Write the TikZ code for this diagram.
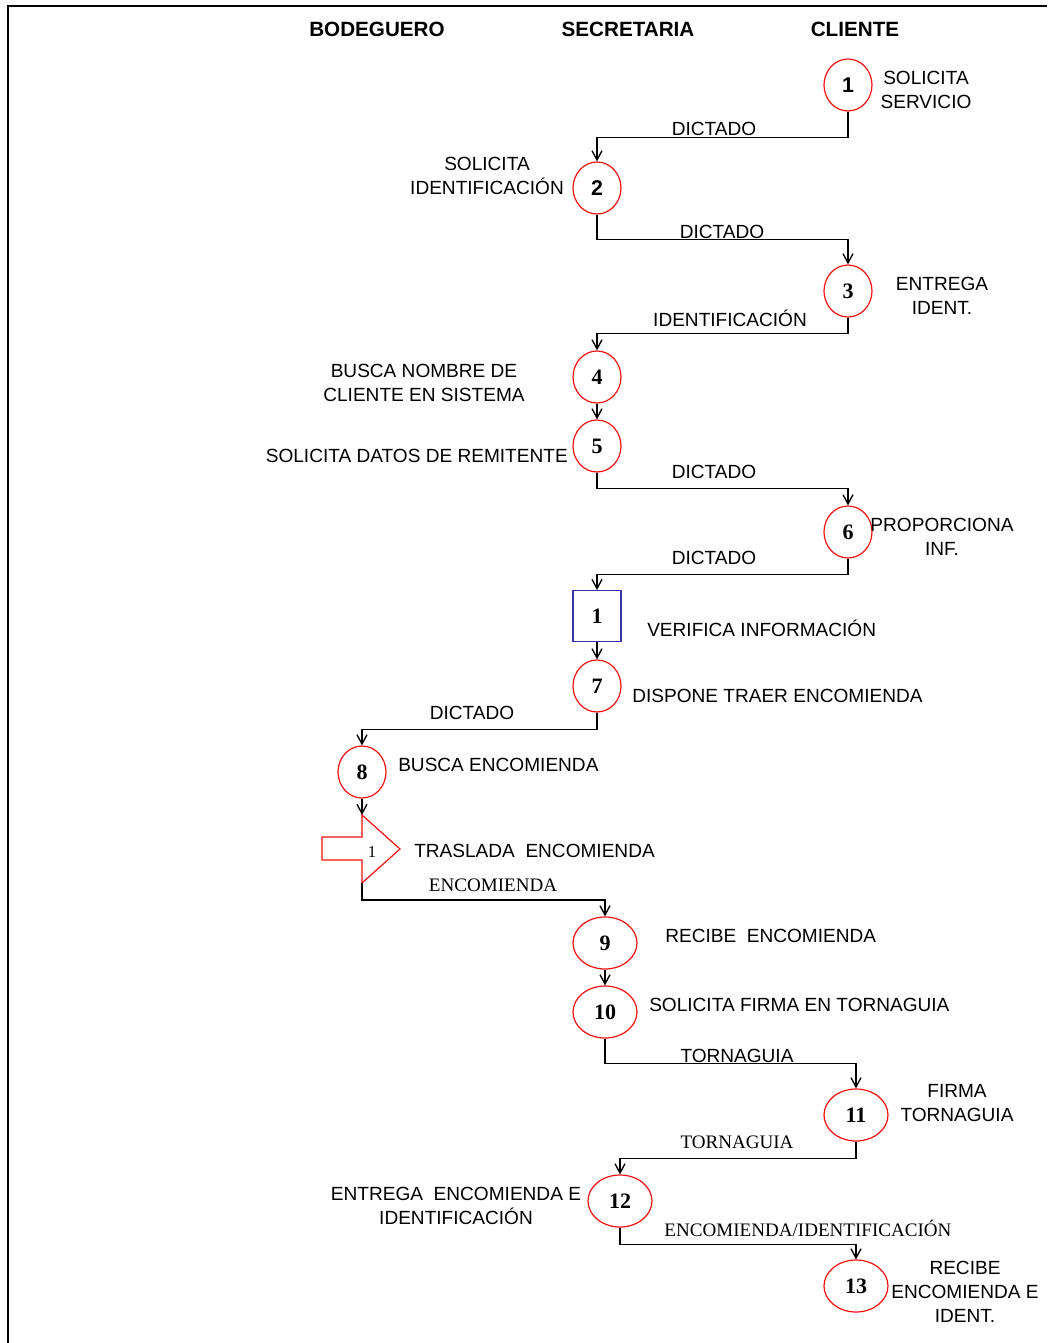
\documentclass[tikz,border=0pt]{standalone}
\usepackage{fontspec}
\setmainfont{Liberation Serif}
\setsansfont{Liberation Sans}
\usetikzlibrary{arrows.meta,shapes.geometric}
\usepackage{xcolor}
\definecolor{Rojo}{HTML}{F01010}
\definecolor{Azul}{HTML}{3535A5}

\tikzset{
  paso/.style={draw=Rojo,line width=0.9pt,ellipse,minimum width=36pt,minimum height=39pt,
    inner sep=0pt,font=\fontsize{16.5}{17}\selectfont\bfseries},
  pasosf/.style={paso,font=\sffamily\fontsize{16}{17}\selectfont\bfseries},
  pasoancho/.style={paso,minimum width=48pt},
  revision/.style={draw=Azul,line width=0.9pt,rectangle,minimum width=36pt,minimum height=38pt,
    inner sep=0pt,font=\fontsize{16.5}{17}\selectfont\bfseries},
  flujo/.style={-{Straight Barb[length=7pt,width=7.5pt,line width=1pt]},line width=1.25pt},
  texto/.style={font=\sffamily\fontsize{14.3}{18}\selectfont,align=center,inner sep=0pt},
  textoserif/.style={font=\rmfamily\fontsize{14.3}{18}\selectfont,align=center,inner sep=0pt},
  carril/.style={font=\sffamily\fontsize{15.5}{16}\selectfont\bfseries,inner sep=0pt}
}

\begin{document}
\begin{tikzpicture}[x=0.75pt,y=-0.75pt]
  \useasboundingbox (0,0) rectangle (1047,1343);
  \draw[line width=1.7pt] (8,1343) -- (8,6) -- (1047,6);

  % carriles
  \node[carril] (bod) at (377,29) {BODEGUERO};
  \node[carril] (sec) at (628,29) {SECRETARIA};
  \node[carril] (cli) at (855,29) {CLIENTE};

  % pasos
  \node[pasosf] (c1) at (848,85) {1};
  \node[pasosf] (c2) at (597,188) {2};
  \node[paso] (c3) at (848,291) {3};
  \node[paso] (c4) at (597,377) {4};
  \node[paso] (c5) at (597,446) {5};
  \node[paso] (c6) at (848,532) {6};
  \node[revision] (r1) at (597,616) {1};
  \node[paso] (c7) at (597,686) {7};
  \node[paso] (c8) at (362,772) {8};
  \node[pasoancho] (c9) at (605,943) {9};
  \node[pasoancho] (c10) at (605,1012) {10};
  \node[pasoancho] (c11) at (856,1115) {11};
  \node[pasoancho] (c12) at (620,1201) {12};
  \node[pasoancho] (c13) at (856,1286) {13};

  % traslado
  \coordinate (t1) at (362,815);
  \coordinate (t2) at (362,883);
  \draw[Rojo,line width=0.9pt] (322,837) -- (362,837) -- (t1) -- (400,849) -- (t2)
    -- (362,860) -- (322,860) -- cycle;
  \node[font=\rmfamily\fontsize{12.5}{12}\selectfont,inner sep=0pt] (tn) at (372,852) {1};

  % descripciones
  \node[texto] (d1) at (926,90) {SOLICITA\\SERVICIO};
  \node[texto] (d2) at (487,176) {SOLICITA\\IDENTIFICACIÓN};
  \node[texto] (d3) at (942,296) {ENTREGA\\IDENT.};
  \node[texto] (d4) at (424,383) {BUSCA NOMBRE DE\\CLIENTE EN SISTEMA};
  \node[texto,anchor=east] (d5) at (568,456) {SOLICITA DATOS DE REMITENTE};
  \node[texto] (d6) at (942,537) {PROPORCIONA\\INF.};
  \node[texto,anchor=west] (dr) at (647,628) {VERIFICA INFORMACIÓN};
  \node[texto,anchor=west] (d7) at (632,696) {DISPONE TRAER ENCOMIENDA};
  \node[texto,anchor=west] (d8) at (398,765) {BUSCA ENCOMIENDA};
  \node[texto,anchor=west] (dt) at (414,851) {TRASLADA\ \ ENCOMIENDA};
  \node[texto,anchor=west] (d9) at (665,936) {RECIBE\ \ ENCOMIENDA};
  \node[texto,anchor=west] (d10) at (649,1005) {SOLICITA FIRMA EN TORNAGUIA};
  \node[texto] (d11) at (957,1103) {FIRMA\\TORNAGUIA};
  \node[texto] (d12) at (456,1206) {ENTREGA\ \ ENCOMIENDA E\\IDENTIFICACIÓN};
  \node[texto] (d13) at (965,1292) {RECIBE\\ENCOMIENDA E\\IDENT.};

  % flujos
  \draw[flujo] (c1.south) -- ++(0,26) -| (c2.north);
  \draw[flujo] (c2.south) -- ++(0,25) -| (c3.north);
  \draw[flujo] (c3.south) -- ++(0,16) -| (c4.north);
  \draw[flujo] (c4) -- (c5);
  \draw[flujo] (c5.south) -- ++(0,16) -| (c6.north);
  \draw[flujo] (c6.south) -- ++(0,16) -| (r1.north);
  \draw[flujo] (r1) -- (c7);
  \draw[flujo] (c7.south) -- ++(0,17) -| (c8.north);
  \draw[flujo] (c8) -- (t1);
  \draw[flujo] (t2) -- ++(0,17) -| (c9.north);
  \draw[flujo] (c9) -- (c10);
  \draw[flujo] (c10.south) -- ++(0,25) -| (c11.north);
  \draw[flujo] (c11.south) -- ++(0,17) -| (c12.north);
  \draw[flujo] (c12.south) -- ++(0,17) -| (c13.north);

  % lo que viaja
  \node[texto] (e1) at (714,129) {DICTADO};
  \node[texto] (e2) at (722,232) {DICTADO};
  \node[texto] (e3) at (730,318) {IDENTIFICACIÓN};
  \node[texto] (e5) at (714,472) {DICTADO};
  \node[texto] (e6) at (714,558) {DICTADO};
  \node[texto] (e7) at (472,713) {DICTADO};
  \node[textoserif] (e8) at (493,885) {ENCOMIENDA};
  \node[texto] (e10) at (737,1056) {TORNAGUIA};
  \node[textoserif] (e11) at (737,1142) {TORNAGUIA};
  \node[textoserif] (e12) at (808,1228) {ENCOMIENDA/IDENTIFICACIÓN};
\end{tikzpicture}
\end{document}
